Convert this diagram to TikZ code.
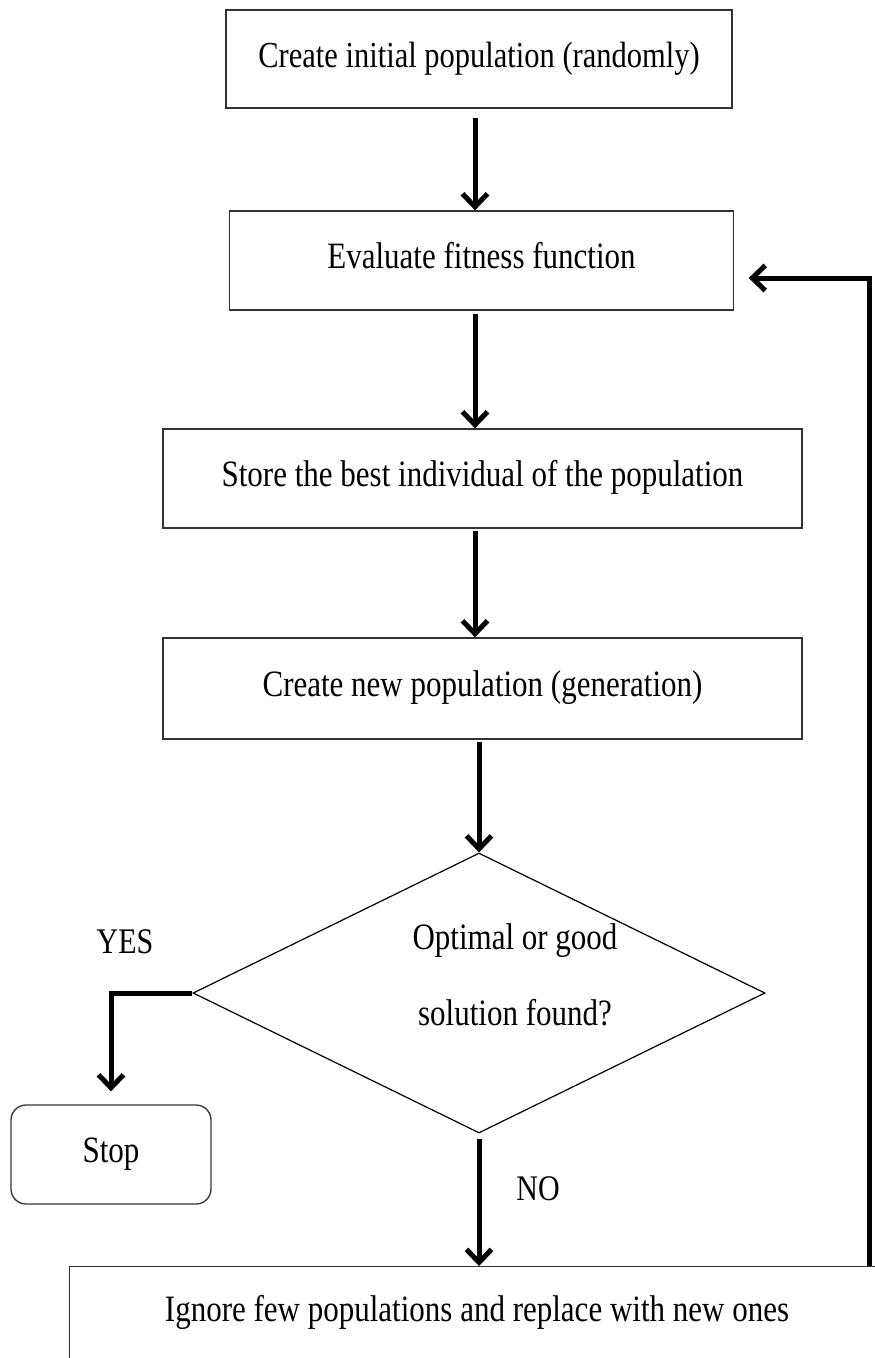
\documentclass[tikz,border=0pt]{standalone}
\usepackage{fontspec}
\usepackage{graphicx}
\setmainfont{Liberation Serif}
\usetikzlibrary{arrows.meta,shapes.geometric}
% slightly tall lettering used throughout the chart
\newcommand{\tallbox}[1]{\scalebox{1}[1.2]{#1}}
\begin{document}
\begin{tikzpicture}[x=1pt,y=-1pt,
  every node/.style={font=\fontsize{31}{38}\selectfont},
  procbox/.style={draw=black!80, line width=1.3pt, inner sep=0pt, text height=24pt, text depth=8pt},
  decision/.style={draw=black, line width=1.2pt, shape=diamond, inner sep=0pt},
  flow/.style={line width=5pt, -{Straight Barb[length=13pt,width=25pt]}},
  plain/.style={inner sep=0pt, anchor=base}]
\useasboundingbox (0,0) rectangle (875,1358);
\clip (0,0) rectangle (875,1358);

% process boxes
\node[procbox, minimum width=506pt, minimum height=98pt] (init) at (479,59)
  {\fontsize{30.5}{36}\selectfont\tallbox{Create initial population (randomly)}};
\node[procbox, minimum width=504pt, minimum height=99pt] (eval) at (481.5,260.5)
  {\tallbox{Evaluate fitness function}};
\node[procbox, minimum width=639pt, minimum height=99pt] (store) at (482.5,478.5)
  {\tallbox{Store the best individual of the population}};
\node[procbox, minimum width=639pt, minimum height=101pt] (newpop) at (482.5,688.5)
  {\tallbox{Create new population (generation)}};

% decision
\node[decision, minimum width=572pt, minimum height=280pt] (check) at (479,993) {};
\node[plain] (checka) at (515,949) {\tallbox{Optimal or good}};
\node[plain] (checkb) at (515,1025) {\tallbox{solution found?}};

% terminal and replacement step
\node[procbox, rounded corners=15pt, minimum width=200pt, minimum height=99pt] (stop) at (111,1154.5) {\tallbox{Stop}};
\node[procbox, minimum width=830pt, minimum height=160pt, anchor=north west] (ignore) at (69,1266) {};
\node[plain] (ignoretext) at (477,1321.7) {\tallbox{Ignore few populations and replace with new ones}};

% branch labels
\node[plain, font=\fontsize{30}{36}\selectfont] (yes) at (125,953) {\tallbox{YES}};
\node[plain, font=\fontsize{30}{36}\selectfont] (no) at (538,1200) {\tallbox{NO}};

% connectors
\coordinate (col) at (475,0);
\draw[flow, shorten <=9pt] (col |- init.south) -- (col |- eval.north);
\draw[flow, shorten <=3pt] (col |- eval.south) -- (col |- store.north);
\draw[flow, shorten <=2pt] (col |- store.south) -- (col |- newpop.north);
\draw[flow, shorten <=2pt] (check.north |- newpop.south) -- (check.north);
\draw[flow, shorten <=5pt] (check.south) -- (check.south |- ignore.north);
\draw[flow, shorten >=13pt] (check.west) -| (stop.north);
\coordinate (loop) at (869,278);
\draw[flow, shorten >=14.5pt] (loop |- ignore.north) -- (loop) -- (eval.east |- loop);
\end{tikzpicture}
\end{document}
